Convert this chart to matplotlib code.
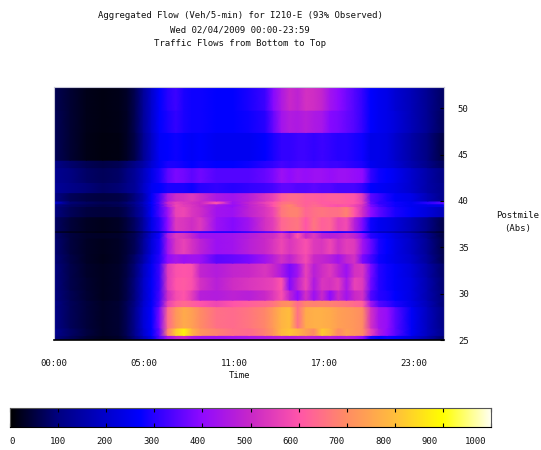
import numpy as np
import matplotlib
matplotlib.use("Agg")
import matplotlib.pyplot as plt
from matplotlib.colors import LinearSegmentedColormap

plt.rcParams['font.family'] = 'DejaVu Sans Mono'
plt.rcParams['font.size'] = 6.5

title_lines = ["Aggregated Flow (Veh/5-min) for I210-E (93% Observed)",
               "Wed 02/04/2009 00:00-23:59",
               "Traffic Flows from Bottom to Top"]

hours = [0, 1, 2, 3, 4, 4.5, 5, 5.5, 6, 6.5, 7, 7.5, 8, 8.5, 9, 10, 11, 12, 13, 13.5, 14, 14.5,
         15, 15.5, 16, 16.5, 17, 17.5, 18, 18.5, 19, 19.5, 20, 20.5, 21, 22, 23, 24]
postmile_edges = [25, 25.5, 26.3, 28.6, 29.3, 30.4, 31.8, 33.3, 34.3, 36.0, 36.6, 36.8, 38.3,
                  39.4, 39.7, 40.0, 40.9, 42, 43.6, 44.4, 47.4, 49.8, 52.3]

# one row per postmile band, bottom to top
flow = [
    [100,70,40,25,35,60,100,170,240,340,430,480,500,450,430,420,430,440,450,460,470,460,470,480,470,460,470,450,460,440,400,290,270,280,270,220,150,80],
    [120,80,50,30,40,70,120,200,270,360,680,820,880,780,720,680,650,640,680,720,790,810,780,740,700,820,780,700,740,720,700,560,450,400,350,260,180,110],
    [110,70,45,30,40,70,120,210,270,380,640,720,760,740,700,650,640,660,690,730,780,800,650,760,770,770,760,740,730,720,700,520,430,410,350,260,180,100],
    [110,70,45,30,40,70,110,200,265,340,560,620,640,620,600,570,600,620,640,660,700,710,640,690,680,690,680,670,660,640,620,430,340,320,290,240,170,90],
    [100,65,40,25,35,60,100,190,260,330,510,580,600,550,470,460,480,470,500,540,590,480,400,520,420,500,400,500,430,500,520,340,300,290,270,230,160,90],
    [100,60,38,25,35,60,100,190,260,320,540,600,610,590,520,470,510,530,550,560,600,390,480,570,450,530,520,550,440,560,540,370,300,280,260,230,160,85],
    [100,60,35,25,35,55,95,180,255,320,540,590,600,590,490,460,490,500,530,500,450,380,430,560,470,510,540,480,420,520,530,380,300,280,260,220,150,80],
    [95,55,30,20,30,50,85,150,240,300,400,440,420,430,420,350,360,380,430,470,520,480,530,580,500,490,470,430,490,520,380,330,280,260,240,200,130,60],
    [90,50,30,22,30,45,70,130,220,290,430,530,560,520,480,420,430,470,500,530,570,530,560,590,540,530,570,510,550,540,430,360,290,270,240,190,120,55],
    [85,50,35,30,35,50,70,120,210,280,450,540,530,490,430,420,430,460,500,510,560,500,600,500,540,480,470,480,510,480,400,300,280,260,230,180,110,50],
    [40,25,20,15,20,30,50,90,150,200,300,330,340,320,310,300,300,320,340,350,380,330,340,360,330,310,300,290,300,300,270,220,190,180,160,120,70,35],
    [80,45,28,22,30,50,80,140,240,300,400,540,530,510,540,420,390,430,520,550,630,650,660,600,660,620,630,560,580,470,380,280,250,240,220,170,110,55],
    [100,70,50,45,50,70,100,160,260,330,420,560,570,530,510,430,420,480,530,570,660,680,680,630,650,660,650,650,680,600,510,400,350,320,290,260,220,170],
    [110,80,65,55,65,80,110,170,260,330,470,570,550,530,500,440,410,480,540,600,660,690,650,620,640,620,600,590,600,570,520,380,330,300,280,250,240,240],
    [200,90,75,65,70,90,120,180,270,340,500,560,540,520,500,600,420,490,560,600,650,660,640,620,630,610,610,620,610,600,550,360,310,300,280,250,300,350],
    [110,70,55,50,55,70,100,160,260,330,450,510,520,540,510,450,430,470,530,560,620,640,640,620,620,610,620,620,610,600,540,350,320,290,260,240,170,110],
    [130,110,95,80,90,110,130,190,250,270,290,290,290,280,300,310,300,310,320,330,350,350,340,340,350,340,340,330,330,330,310,270,260,250,240,200,150,110],
    [120,100,80,70,80,100,130,180,240,290,350,380,370,350,370,340,340,340,360,380,420,400,420,410,420,420,410,420,420,410,400,310,280,270,250,200,150,100],
    [110,85,65,55,65,85,110,150,210,260,290,290,280,270,280,270,270,280,300,310,330,320,330,330,320,330,320,320,310,300,290,250,240,230,210,160,110,70],
    [70,40,18,12,15,30,60,120,190,260,270,280,270,260,270,250,250,250,270,290,310,310,320,320,310,320,310,300,300,290,280,240,240,230,200,150,100,50],
    [70,40,20,15,18,30,65,130,200,270,290,310,290,280,280,270,270,280,300,360,430,460,450,470,450,440,390,380,360,340,310,270,250,240,220,170,120,70],
    [65,40,20,15,20,32,65,130,200,270,300,320,290,280,280,270,270,290,320,390,450,500,480,520,510,490,430,400,370,340,310,270,250,240,210,170,120,75],
]

xtick_pos = [0, 5.54, 11.08, 16.62, 22.15]
xtick_labels = ["00:00", "05:00", "11:00", "17:00", "23:00"]
ytick_pos = [25, 30, 35, 40, 45, 50]
cbar_ticks = [0, 100, 200, 300, 400, 500, 600, 700, 800, 900, 1000]

cmap_stops = [(0, (0, 0, 0)), (100, (0, 0, 130)), (200, (0, 0, 205)), (270, (0, 0, 255)),
              (300, (40, 0, 255)), (400, (145, 10, 255)), (500, (200, 40, 200)),
              (600, (255, 85, 170)), (700, (255, 140, 100)), (800, (255, 190, 60)),
              (900, (255, 255, 0)), (1000, (255, 255, 240))]
cmap = LinearSegmentedColormap.from_list(
    "flow", [(v / 1000, tuple(c / 255 for c in rgb)) for v, rgb in cmap_stops], N=512)

W, H = 541, 450
fig = plt.figure(figsize=(W / 100, H / 100), dpi=100)

def px_axes(x0, y0, x1, y1):
    return fig.add_axes([x0 / W, 1 - y1 / H, (x1 - x0) / W, (y1 - y0) / H])

def px_text(x, y, s):
    fig.text(x / W, 1 - y / H, s, ha='center', va='center', color='#111111')

ax = px_axes(54, 87, 444, 340)
# doubled rows keep the postmile bands sharp while gouraud smooths along time
edges = np.repeat(postmile_edges, 2)[1:-1]
X, Y = np.meshgrid(hours, edges)
C = np.repeat(np.array(flow, dtype=float), 2, axis=0)
ax.pcolormesh(X, Y, C, shading='gouraud', cmap=cmap, vmin=0, vmax=1000)
ax.set_xlim(0, 24)
ax.set_ylim(25, 52.3)
ax.set_xticks(xtick_pos)
ax.set_xticklabels(xtick_labels)
ax.tick_params(axis='x', length=0, pad=14, colors='#111111')
ax.yaxis.tick_right()
ax.set_yticks(ytick_pos)
ax.tick_params(axis='y', direction='in', length=3, width=0.8, pad=10, color='black', labelcolor='#111111')
for side in ['top', 'left', 'right']:
    ax.spines[side].set_color('#c8c8d8')
ax.spines['bottom'].set_color('black')
ax.spines['bottom'].set_linewidth(1.2)

for i, line in enumerate(title_lines):
    px_text(240, 16 + 14 * i, line)
px_text(240, 376, "Time")
px_text(518, 215, "Postmile")
px_text(518, 229, "(Abs)")

cax = px_axes(10, 408, 491, 427)
gradient = np.linspace(0, 1000, 512).reshape(1, -1)
cax.imshow(gradient, aspect='auto', cmap=cmap, vmin=0, vmax=1000, extent=[0, 1000, 0, 1])
cax.set_yticks([])
cax.set_xticks(cbar_ticks)
cax.set_xticklabels([])
cax.tick_params(axis='x', direction='in', length=3, width=0.8, top=True)
for spine in cax.spines.values():
    spine.set_color('#555555')
cax.spines['bottom'].set_color('black')
for v in cbar_ticks:
    # labels in the original drift left of their ticks
    px_text(12 + 0.464 * v, 441, str(v))

fig.savefig("out.png", dpi=100)
